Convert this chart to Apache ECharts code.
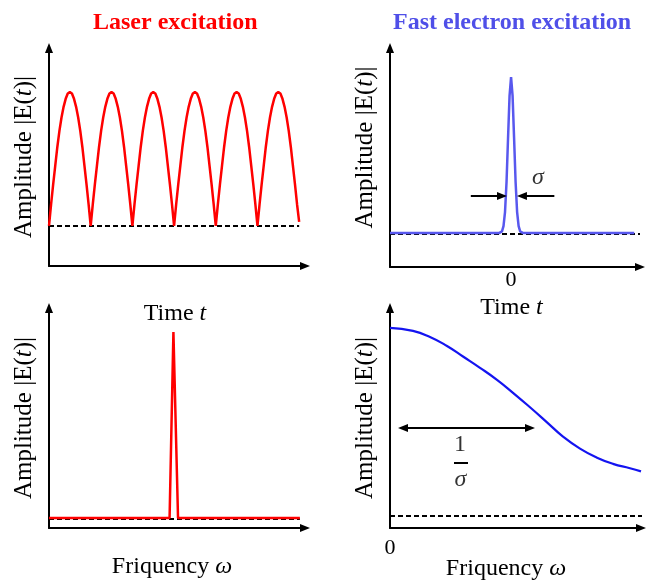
<!DOCTYPE html>
<html>
<head>
<meta charset="utf-8">
<script src="https://cdn.jsdelivr.net/npm/echarts@6/dist/echarts.min.js"></script>
<style>
  html, body { margin: 0; padding: 0; background: #fff; }
  #chart { width: 646px; height: 580px; }
</style>
</head>
<body>
<div id="chart"></div>
<script>
// ---- Laser excitation, time domain: |E(t)| over six optical periods (t in periods)
const laserTime = [
  0, 0.05, 0.1, 0.15, 0.2, 0.25, 0.3, 0.35, 0.4, 0.45, 0.5, 0.55, 0.6, 0.65, 0.7, 0.75, 0.8, 0.85, 0.9, 0.95,
  1, 1.05, 1.1, 1.15, 1.2, 1.25, 1.3, 1.35, 1.4, 1.45, 1.5, 1.55, 1.6, 1.65, 1.7, 1.75, 1.8, 1.85, 1.9, 1.95,
  2, 2.05, 2.1, 2.15, 2.2, 2.25, 2.3, 2.35, 2.4, 2.45, 2.5, 2.55, 2.6, 2.65, 2.7, 2.75, 2.8, 2.85, 2.9, 2.95,
  3, 3.05, 3.1, 3.15, 3.2, 3.25, 3.3, 3.35, 3.4, 3.45, 3.5, 3.55, 3.6, 3.65, 3.7, 3.75, 3.8, 3.85, 3.9, 3.95,
  4, 4.05, 4.1, 4.15, 4.2, 4.25, 4.3, 4.35, 4.4, 4.45, 4.5, 4.55, 4.6, 4.65, 4.7, 4.75, 4.8, 4.85, 4.9, 4.95,
  5, 5.05, 5.1, 5.15, 5.2, 5.25, 5.3, 5.35, 5.4, 5.45, 5.5, 5.55, 5.6, 5.65, 5.7, 5.75, 5.8, 5.85, 5.9, 5.95,
  6
];
const laserAmp = [
  0, 0.16, 0.31, 0.45, 0.59, 0.71, 0.81, 0.89, 0.95, 0.99, 1, 0.99, 0.95, 0.89, 0.81, 0.71, 0.59, 0.45, 0.31, 0.16,
  0, 0.16, 0.31, 0.45, 0.59, 0.71, 0.81, 0.89, 0.95, 0.99, 1, 0.99, 0.95, 0.89, 0.81, 0.71, 0.59, 0.45, 0.31, 0.16,
  0, 0.16, 0.31, 0.45, 0.59, 0.71, 0.81, 0.89, 0.95, 0.99, 1, 0.99, 0.95, 0.89, 0.81, 0.71, 0.59, 0.45, 0.31, 0.16,
  0, 0.16, 0.31, 0.45, 0.59, 0.71, 0.81, 0.89, 0.95, 0.99, 1, 0.99, 0.95, 0.89, 0.81, 0.71, 0.59, 0.45, 0.31, 0.16,
  0, 0.16, 0.31, 0.45, 0.59, 0.71, 0.81, 0.89, 0.95, 0.99, 1, 0.99, 0.95, 0.89, 0.81, 0.71, 0.59, 0.45, 0.31, 0.16,
  0, 0.16, 0.31, 0.45, 0.59, 0.71, 0.81, 0.89, 0.95, 0.99, 1, 0.99, 0.95, 0.89, 0.81, 0.71, 0.59, 0.45, 0.31, 0.16,
  0.03
];
const laserZeroSpan = [0, 6];

// ---- Fast electron excitation, time domain: short pulse centred at t = 0
const pulseTime = [-40, -4, -3, -2.5, -2, -1.5, -1, -0.5, 0, 0.5, 1, 1.5, 2, 2.5, 3, 4, 40.7];
const pulseAmp  = [0.006, 0.006, 0.017, 0.05, 0.14, 0.33, 0.61, 0.88, 1, 0.88, 0.61, 0.33, 0.14, 0.05, 0.017, 0.006, 0.006];
const pulseZeroSpan = [-40, 42.6];

// ---- Laser excitation, frequency domain: a single narrow line
const laserFreq = [0, 4.71, 4.86, 5.04, 9.8];
const laserSpec = [0.005, 0.005, 1, 0.005, 0.005];
const laserSpecZeroSpan = [0, 9.8];

// ---- Fast electron excitation, frequency domain: broad spectrum of width ~1/sigma
const pulseFreq = [0, 0.92, 1.6, 2.28, 2.92, 3.6, 4.28, 4.92, 5.6, 6.28, 6.92, 7.6, 8.28, 8.92, 9.6, 10.04];
const pulseSpec = [1, 0.984, 0.952, 0.904, 0.848, 0.788, 0.724, 0.655, 0.578, 0.498, 0.422, 0.358, 0.31, 0.277, 0.254, 0.237];
const pulseSpecZeroSpan = [0, 10.2];

// ---- Annotations (data units of their panels)
const sigmaArrowLeft  = [[-13.3, 0.242], [-3, 0.242]];
const sigmaArrowRight = [[14.3, 0.242], [3.6, 0.242]];
const sigmaLabel      = [8.9, 0.357];
const widthArrow      = [[0.52, 0.468], [5.6, 0.468]];
const fracOneLabel    = [2.8, 0.378];
const fracSigmaLabel  = [2.82, 0.191];
const fracBar         = [[2.56, 0.282], [3.12, 0.282]];

// ---- Text
const titles = ['Laser excitation', 'Fast electron excitation'];
const yName = 'Amplitude |E({i|t})|';
const timeName = 'Time {i|t}';
const freqName = 'Friquency {i|ω}';

const SERIF = '"Liberation Serif", "Times New Roman", serif';
const RED = '#ff0000';
const TITLE_BLUE = '#4f4fe8';
const PULSE_BLUE = '#5858ee';
const SPEC_BLUE = '#1414f0';

const zip = (xs, ys) => xs.map((x, i) => [x, ys[i]]);
const rich = {
  i: { fontStyle: 'italic', fontFamily: SERIF, fontSize: 24, color: '#000' }
};
const richY = {
  i: { fontStyle: 'italic', fontFamily: SERIF, fontSize: 25, color: '#000' }
};

function axisLine() {
  return {
    show: true,
    onZero: false,
    symbol: ['none', 'triangle'],
    symbolSize: [8, 10],
    lineStyle: { color: '#000', width: 2 }
  };
}

function xAxis(gridIndex, min, max, name, nameGap, shift, labelOpt) {
  const ax = {
    type: 'value', gridIndex, min, max,
    axisLine: axisLine(),
    axisTick: { show: false },
    splitLine: { show: false },
    axisLabel: { show: false },
    name, nameLocation: 'middle', nameGap,
    nameMoveOverlap: false,
    nameTextStyle: {
      fontFamily: SERIF, fontSize: 24, color: '#000',
      padding: [0, shift, 0, 0], rich
    }
  };
  if (labelOpt) {
    ax.interval = labelOpt.interval;
    ax.axisLabel = {
      show: true, margin: labelOpt.margin,
      fontFamily: SERIF, fontSize: 22, color: '#000',
      showMinLabel: true,
      formatter: v => (v === 0 ? '0' : '')
    };
  }
  return ax;
}

function yAxis(gridIndex, min, max, lift) {
  return {
    type: 'value', gridIndex, min, max,
    axisLine: axisLine(),
    axisTick: { show: false },
    splitLine: { show: false },
    axisLabel: { show: false },
    name: yName, nameLocation: 'middle', nameGap: 12,
    nameMoveOverlap: false,
    nameTextStyle: {
      fontFamily: SERIF, fontSize: 25, color: '#000',
      padding: [0, 0, 0, lift], rich: richY
    }
  };
}

function dashed(idx, span) {
  return {
    type: 'line', xAxisIndex: idx, yAxisIndex: idx,
    data: [[span[0], 0], [span[1], 0]],
    showSymbol: false, symbol: 'none', silent: true, z: 2,
    lineStyle: { color: '#000', width: 2, type: [5, 3] }
  };
}

function curve(idx, data, color, width, smooth) {
  return {
    type: 'line', xAxisIndex: idx, yAxisIndex: idx, data,
    showSymbol: false, symbol: 'none', silent: true, z: 3,
    smooth: smooth || false,
    lineStyle: { color, width }
  };
}

function textMark(idx, pos, text) {
  return {
    type: 'scatter', xAxisIndex: idx, yAxisIndex: idx,
    data: [pos], symbolSize: 1, silent: true, z: 5,
    itemStyle: { color: 'rgba(0,0,0,0)' },
    label: {
      show: true, position: 'inside', formatter: text,
      fontFamily: SERIF, fontStyle: text === '1' ? 'normal' : 'italic',
      fontSize: 24, color: '#000'
    }
  };
}

function arrowLines(idx, segments, symbols) {
  return {
    type: 'line', xAxisIndex: idx, yAxisIndex: idx, data: [],
    silent: true, z: 4,
    markLine: {
      silent: true, animation: false,
      symbol: symbols, symbolSize: [8, 10],
      label: { show: false },
      lineStyle: { color: '#000', width: 2, type: 'solid' },
      emphasis: { disabled: true },
      data: segments.map(s => [{ coord: s[0] }, { coord: s[1] }])
    }
  };
}

const option = {
  animation: false,
  backgroundColor: '#fff',
  title: [
    { text: titles[0], left: 93, top: 11, padding: 0,
      textStyle: { fontFamily: SERIF, fontWeight: 'bold', fontSize: 24, color: RED } },
    { text: titles[1], left: 393, top: 11, padding: 0,
      textStyle: { fontFamily: SERIF, fontWeight: 'bold', fontSize: 24, color: TITLE_BLUE } }
  ],
  grid: [
    { left: 49,  top: 48,  width: 256, height: 218, outerBoundsMode: 'none', containLabel: false },
    { left: 390, top: 48,  width: 250, height: 219, outerBoundsMode: 'none', containLabel: false },
    { left: 49,  top: 308, width: 256, height: 220, outerBoundsMode: 'none', containLabel: false },
    { left: 390, top: 308, width: 251, height: 220, outerBoundsMode: 'none', containLabel: false }
  ],
  xAxis: [
    xAxis(0, 0, 6.14, timeName, 36, 4),
    xAxis(1, -40, 42.6, timeName, 29, 7, { interval: 40, margin: 2 }),
    xAxis(2, 0, 10, freqName, 27, 10),
    xAxis(3, 0, 10.04, freqName, 29, 19, { interval: 5, margin: 9 })
  ],
  yAxis: [
    yAxis(0, -0.3, 1.33, 0),
    yAxis(1, -0.21, 1.185, 20),
    yAxis(2, -0.048, 1.128, 0),
    yAxis(3, -0.064, 1.106, 0)
  ],
  series: [
    dashed(0, laserZeroSpan),
    curve(0, zip(laserTime, laserAmp), RED, 2.5),

    dashed(1, pulseZeroSpan),
    curve(1, zip(pulseTime, pulseAmp), PULSE_BLUE, 2.5),
    arrowLines(1, [sigmaArrowLeft, sigmaArrowRight], ['none', 'triangle']),
    textMark(1, sigmaLabel, 'σ'),

    dashed(2, laserSpecZeroSpan),
    curve(2, zip(laserFreq, laserSpec), RED, 2.5),

    dashed(3, pulseSpecZeroSpan),
    curve(3, zip(pulseFreq, pulseSpec), SPEC_BLUE, 2.2, 0.5),
    arrowLines(3, [widthArrow], ['triangle', 'triangle']),
    arrowLines(3, [fracBar], ['none', 'none']),
    textMark(3, fracOneLabel, '1'),
    textMark(3, fracSigmaLabel, 'σ')
  ]
};

const chart = echarts.init(document.getElementById('chart'), null, { renderer: 'canvas' });
chart.setOption(option);
</script>
</body>
</html>
